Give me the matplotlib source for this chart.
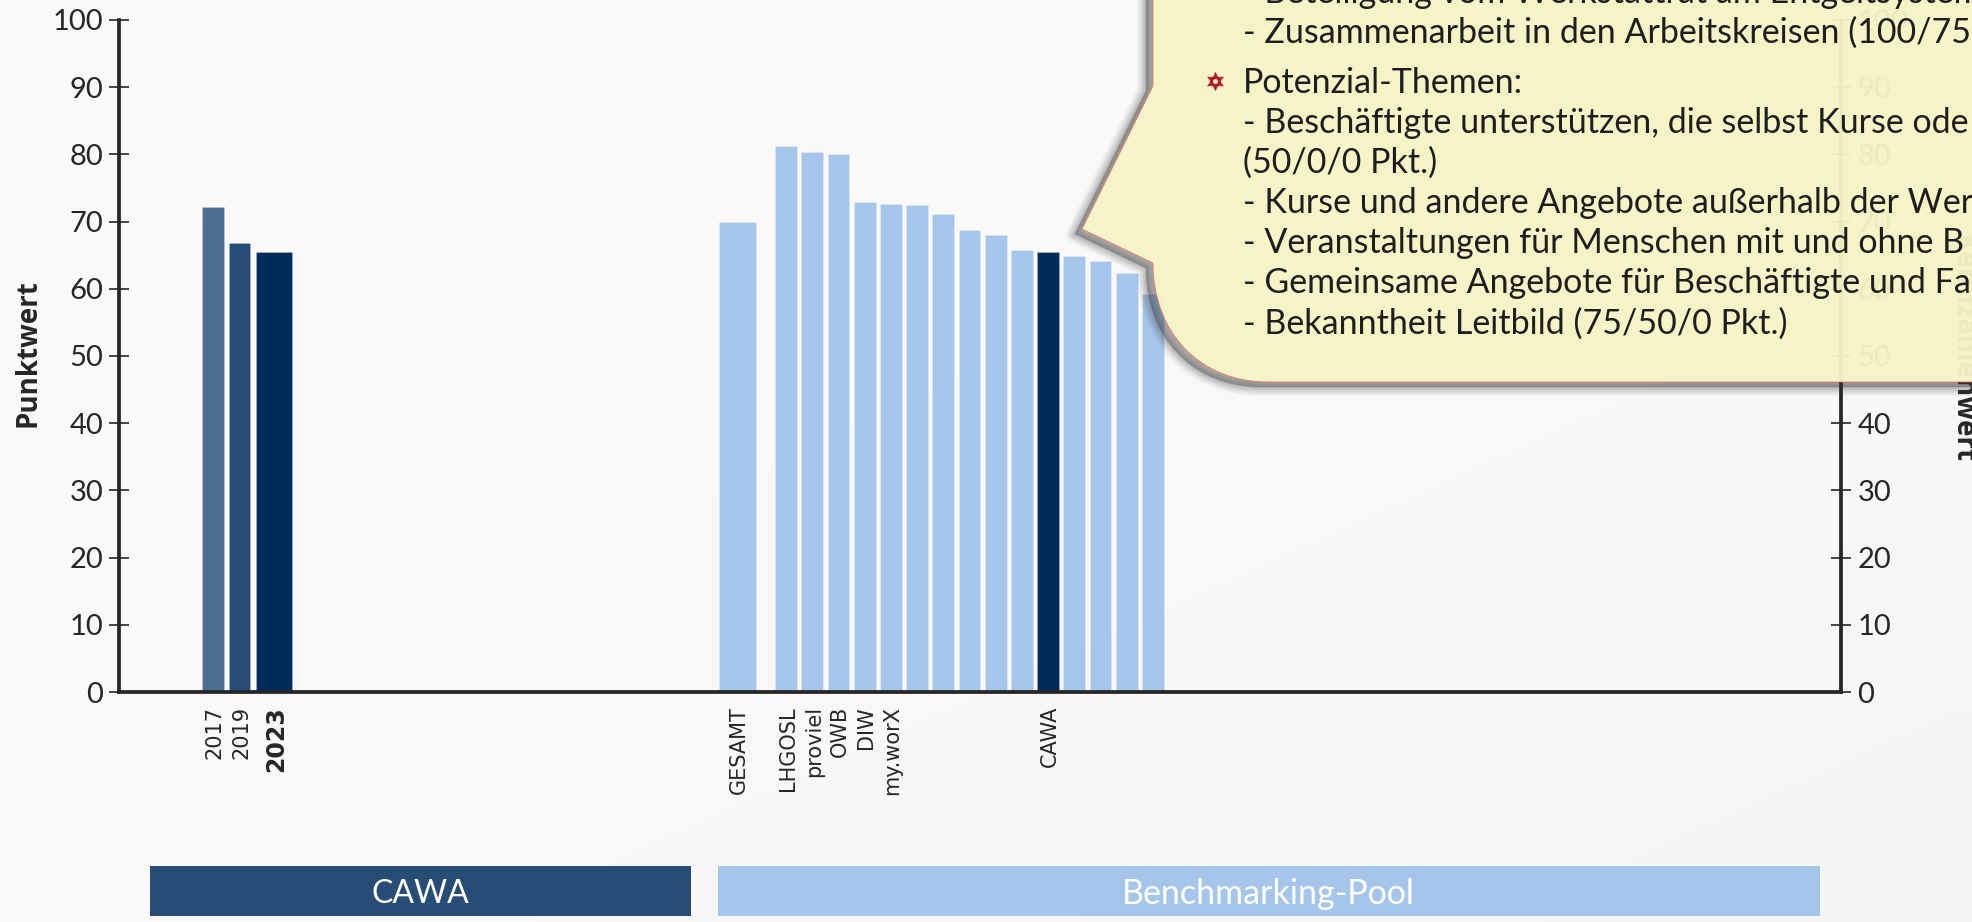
import numpy as np
import matplotlib
matplotlib.use("Agg")
import matplotlib.pyplot as plt
from matplotlib.patches import Rectangle, PathPatch
from matplotlib.path import Path

# ---- data ----
year_labels = ["2017", "2019", "2023"]
year_values = [72.1, 66.8, 65.5]
year_colors = ["#4D6F92", "#274D77", "#002C5C"]
gesamt_label = "GESAMT"
gesamt_value = 70.0
pool_labels = ["LHGOSL", "proviel", "OWB", "DIW", "my.worX", "", "", "", "", "", "CAWA", "", "", "", ""]
pool_values = [81.2, 80.3, 80.05, 72.9, 72.6, 72.4, 71.1, 68.8, 68.0, 65.8, 65.5, 64.9, 64.1, 62.3, 59.3]
y_ticks = list(range(0, 101, 10))
callout_lines = [
    "- Beteiligung vom Werkstattrat am Entgeltsystem",
    "- Zusammenarbeit in den Arbeitskreisen (100/75",
    "Potenzial-Themen:",
    "- Beschäftigte unterstützen, die selbst Kurse ode",
    "(50/0/0 Pkt.)",
    "- Kurse und andere Angebote außerhalb der Wer",
    "- Veranstaltungen für Menschen mit und ohne B",
    "- Gemeinsame Angebote für Beschäftigte und Fa",
    "- Bekanntheit Leitbild (75/50/0 Pkt.)",
]
callout_y = [-7, 33, 83, 123, 163, 203, 243, 283, 324]

BG = "#FAF9F8"; INK = "#262626"; POOL = "#A5C5EA"; HILITE = "#002C5C"
W, H = 1972, 922
fig = plt.figure(figsize=(W / 100, H / 100), dpi=100, facecolor=BG)

# paper tone of the slide
bg = fig.add_axes([0, 0, 1, 1], zorder=-1); bg.axis("off")
gx, gy = np.meshgrid(np.linspace(0, 1, 40), np.linspace(0, 1, 20))
shade = np.clip((gx + gy) / 2, 0, 1)[..., None] ** 2
paper = (np.array([251, 250, 249]) - 5 * shade) / 255
bg.imshow(paper, aspect="auto", interpolation="bilinear")

ax = fig.add_axes([119 / W, 1 - 692 / H, (1841.5 - 119) / W, (692 - 20) / H])
ax.set_facecolor("none")
ax.set_xlim(0, 1722.5 / 26.2)
ax.set_ylim(0, 100)

year_x = [3.59, 4.60, 5.92]
year_w = [0.83, 0.83, 1.38]
ax.bar(year_x, year_values, width=year_w, color=year_colors, edgecolor="#FFFFFF40", linewidth=0.5)
gesamt_x = 23.6
ax.bar([gesamt_x], [gesamt_value], width=1.41, color=POOL, edgecolor="#FFFFFF40", linewidth=0.5)
pool_x = 25.46 + np.arange(len(pool_values))
pool_colors = [HILITE if l == "CAWA" else POOL for l in pool_labels]
ax.bar(pool_x, pool_values, width=0.83, color=pool_colors, edgecolor="#FFFFFF40", linewidth=0.5)

labelled = [(x, l) for x, l in zip(pool_x, pool_labels) if l]
xt = np.array(year_x + [gesamt_x] + [p[0] for p in labelled]) + 0.06
xl = year_labels + [gesamt_label] + [p[1] for p in labelled]
ax.set_xticks(xt, xl, rotation=90, fontsize=15, family="DejaVu Sans", color=INK, va="top", ha="center")
ax.tick_params(axis="x", length=0, pad=10)
for t in ax.get_xticklabels():
    if t.get_text() == "2023":
        t.set_fontweight("bold"); t.set_fontsize(17)

ax.set_yticks(y_ticks)
ax.tick_params(axis="y", direction="inout", length=14, width=1.2, color=INK, labelcolor=INK,
               labelsize=21, pad=4.5, left=True, right=True, labelleft=True, labelright=True)
for t in ax.yaxis.get_ticklabels():
    t.set_family("Lato")
for tick in ax.yaxis.get_major_ticks():
    tick.label2.set_family("Lato")
for s in ("left", "right", "bottom"):
    ax.spines[s].set_linewidth(2.7); ax.spines[s].set_color(INK)
ax.spines["top"].set_visible(False)

ax.text(28 / W, 1 - 353 / H, "Punktwert", rotation=90, ha="center", va="center", transform=fig.transFigure,
        fontsize=20, fontweight="bold", color=INK, family="Open Sans", clip_on=False)
ax.text(1962 / W, 1 - 349 / H, "Kennzahlenwert", rotation=270, ha="center", va="center", transform=fig.transFigure,
        fontsize=20, fontweight="bold", color=INK, family="Open Sans", clip_on=False)

# overlay in figure pixels: bands and callout
ov = fig.add_axes([0, 0, 1, 1]); ov.set_xlim(0, W); ov.set_ylim(H, 0); ov.axis("off"); ov.patch.set_alpha(0)
ov.add_patch(Rectangle((150, 866), 541, 50, color="#274D77", lw=0))
ov.add_patch(Rectangle((718, 866), 1102, 50, color=POOL, lw=0))
ov.text(420, 894, "CAWA", color="white", fontsize=23, family="Lato", ha="center", va="center")
ov.text(1268, 894, "Benchmarking-Pool", color="white", fontsize=24.5, family="Lato", ha="center", va="center")

def bubble(dx=0, dy=0):
    v = [(1153, -30), (1153, 86), (1082, 229), (1153, 263), (1153, 333), (1200, 382), (1268, 382), (2010, 382), (2010, -30), (1153, -30)]
    c = [Path.MOVETO, Path.LINETO, Path.LINETO, Path.LINETO, Path.CURVE4, Path.CURVE4, Path.CURVE4, Path.LINETO, Path.LINETO, Path.CLOSEPOLY]
    return Path([(x + dx, y + dy) for x, y in v], c)

# everything except the callout itself: the shadow must not tint its fill
outer = Path([(-50, -50), (W + 50, -50), (W + 50, H + 50), (-50, H + 50), (-50, -50)],
             [Path.MOVETO, Path.LINETO, Path.LINETO, Path.LINETO, Path.CLOSEPOLY])
outside = Path.make_compound_path(outer, bubble())
for lw, a in zip([18, 15, 12, 9, 6, 3, 1], [0.04, 0.05, 0.06, 0.07, 0.08, 0.08, 0.08]):
    sh = ov.add_patch(PathPatch(bubble(-7, 5), fc=(0.25, 0.25, 0.25, a), ec=(0.25, 0.25, 0.25, a), lw=lw * 0.72, joinstyle="round"))
    sh.set_clip_path(outside, ov.transData)
ov.add_patch(PathPatch(bubble(), fc="#F5F4C5", ec="none", alpha=0.96))
ov.add_patch(PathPatch(bubble(), fc="none", ec="#E8605A", lw=0.5))

for s, y in zip(callout_lines, callout_y):
    ov.text(1243, y, s, fontsize=24.5, family="Lato", color="#1E1E1E", ha="left", va="center", clip_on=False)
ov.scatter([1215], [81], marker=(6, 1, 0), s=170, color="#B01E2E", lw=0.5, zorder=5)
ov.scatter([1215], [81], marker="o", s=65, color="#B01E2E", lw=0, zorder=5)
ov.scatter([1215], [81], marker="o", s=12, color="#F5F4C5", lw=0, zorder=6)

fig.savefig("out.png", dpi=100, facecolor=BG)
